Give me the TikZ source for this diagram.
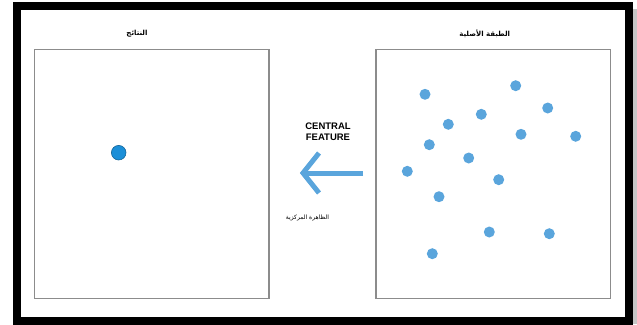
\documentclass[tikz,border=0pt]{standalone}
\usepackage{fontspec}
\setmainfont{Liberation Sans}
\newfontfamily\arabicfont[Script=Arabic]{DejaVu Sans}
\TeXXeTstate=1
\definecolor{dotblue}{HTML}{5AA5DC}
\definecolor{centerblue}{HTML}{1B8FD8}
\definecolor{boxgray}{HTML}{8C8C8C}
\begin{document}
\begin{tikzpicture}[x=1pt,y=-1pt,
    panel/.style={draw=boxgray, line width=1.5pt, inner sep=0pt,
      minimum width=234.5pt, minimum height=249pt},
    arlabel/.style={font=\arabicfont\bfseries\fontsize{7}{8}\selectfont},
    arrowline/.style={dotblue, line width=5pt, miter limit=20}]
    \useasboundingbox (0,0) rectangle (637,324);
    % frame
    \fill[gray!45] (632,9) rectangle (637,324);
    \draw[line width=8pt] (16.5,6.3) rectangle (628.5,320.5);
    % panels
    \node[panel] (results) at (151.75,174) {};
    \node[panel] (layer) at (493,174) {};
    \node[arlabel] (resultstitle) at (137,34) {\beginR النتائج\endR};
    \node[arlabel] (layertitle) at (484.7,34) {\beginR الطبقة الأصلية\endR};
    % input points
    \foreach \px/\py in {425/94.3, 515.7/85.7, 547.7/108, 481.3/114.3,
        448.3/124.3, 521/134.3, 575.7/136.3, 429.3/144.7, 468.7/158,
        407.3/171.3, 498.7/179.7, 439/196.7, 489.3/232, 549.3/233.7,
        432.3/253.7}
      \fill[dotblue] (\px,\py) circle (5.5pt);
    % central feature
    \filldraw[fill=centerblue, draw=centerblue!70!black, line width=0.6pt]
      (118.7,152.7) circle (7.3pt);
    % arrow
    \coordinate (arrowtail) at (363,173);
    \coordinate (arrowtip) at (303,173);
    \draw[arrowline] (arrowtail) -- (arrowtip);
    \draw[arrowline] (arrowtip) ++(16,-20) -- (arrowtip) -- ++(16,20);
    \node[font=\bfseries\fontsize{9.5}{11.5}\selectfont, align=center]
      (feature) at (328,131.7) {CENTRAL\\FEATURE};
    \node[arlabel, font=\arabicfont\fontsize{6}{7}\selectfont]
      (featurear) at (307.5,218) {\beginR الظاهرة المركزية\endR};
\end{tikzpicture}
\end{document}
